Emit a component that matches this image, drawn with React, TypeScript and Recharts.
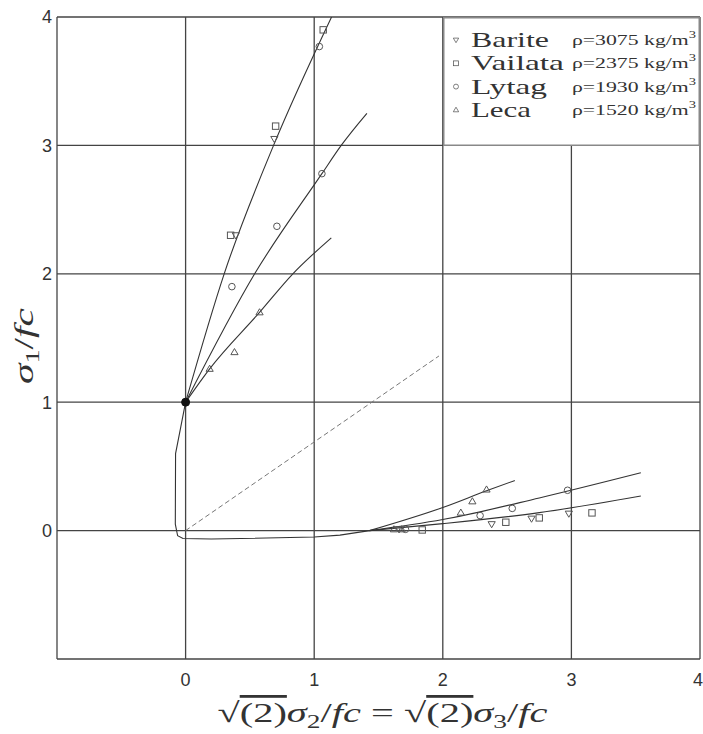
import React from 'react';
import { ComposedChart, Line, Scatter, XAxis, YAxis, CartesianGrid, Legend } from 'recharts';

// ---------- data ----------
const axisTicks = [-1, 0, 1, 2, 3, 4];

// compressive meridian fits starting from uniaxial point (0,1)
const fitBariteVailata = [
  { x: 0, y: 1 }, { x: 0.3, y: 2 }, { x: 0.684, y: 3 }, { x: 1.135, y: 4 },
];
const fitLytag = [
  { x: 0, y: 1 }, { x: 0.537, y: 2 }, { x: 1.06, y: 2.78 }, { x: 1.21, y: 3 }, { x: 1.41, y: 3.25 },
];
const fitLeca = [
  { x: 0, y: 1 }, { x: 0.187, y: 1.26 }, { x: 0.575, y: 1.7 }, { x: 0.834, y: 2 }, { x: 1.133, y: 2.28 },
];
// failure envelope through the tensile region
const envelope = [
  { x: 0, y: 1 }, { x: -0.037, y: 0.81 }, { x: -0.078, y: 0.6 }, { x: -0.08, y: 0.05 },
  { x: -0.062, y: -0.04 }, { x: -0.02, y: -0.062 }, { x: 0.2, y: -0.066 }, { x: 1.0, y: -0.05 },
  { x: 1.2, y: -0.035 }, { x: 1.43, y: 0 },
];
const dashedRay = [{ x: 0, y: 0 }, { x: 1.97, y: 1.36 }];
// tensile meridian fits
const tFitLeca = [{ x: 1.43, y: 0 }, { x: 2.0, y: 0.18 }, { x: 2.34, y: 0.31 }, { x: 2.56, y: 0.39 }];
const tFitLytag = [{ x: 1.43, y: 0 }, { x: 2.0, y: 0.086 }, { x: 2.75, y: 0.254 }, { x: 3.54, y: 0.45 }];
const tFitBarite = [{ x: 1.43, y: 0 }, { x: 2.0, y: 0.054 }, { x: 2.75, y: 0.14 }, { x: 3.54, y: 0.27 }];

const uniaxialPoint = [{ x: 0, y: 1 }];

const bariteData = [
  { x: 0.39, y: 2.3 }, { x: 0.69, y: 3.05 }, { x: 1.66, y: 0.01 }, { x: 2.38, y: 0.05 },
  { x: 2.69, y: 0.093 }, { x: 2.98, y: 0.132 },
];
const vailataData = [
  { x: 0.35, y: 2.3 }, { x: 0.7, y: 3.15 }, { x: 1.07, y: 3.9 }, { x: 1.84, y: 0.005 },
  { x: 2.49, y: 0.065 }, { x: 2.75, y: 0.099 }, { x: 3.16, y: 0.138 },
];
const lytagData = [
  { x: 0.36, y: 1.9 }, { x: 0.71, y: 2.37 }, { x: 1.06, y: 2.78 }, { x: 1.04, y: 3.77 },
  { x: 1.71, y: 0.01 }, { x: 2.29, y: 0.117 }, { x: 2.54, y: 0.173 }, { x: 2.97, y: 0.314 },
];
const lecaData = [
  { x: 0.187, y: 1.26 }, { x: 0.38, y: 1.39 }, { x: 0.575, y: 1.7 }, { x: 1.62, y: 0.01 },
  { x: 1.68, y: 0.01 }, { x: 2.14, y: 0.14 }, { x: 2.23, y: 0.228 }, { x: 2.34, y: 0.32 },
];

const legendNames = ['Barite', 'Vailata', 'Lytag', 'Leca'];
const legendDensities = ['3075', '2375', '1930', '1520'];

// ---------- styling ----------
const MARK = '#555';
const LINE = '#333';

const TriDown = (p: any) => {
  const { cx, cy } = p;
  const s = 3.6;
  return <path d={`M${cx - s},${cy - s * 0.7}L${cx + s},${cy - s * 0.7}L${cx},${cy + s}Z`} fill="none" stroke={MARK} strokeWidth={1} />;
};
const TriUp = (p: any) => {
  const { cx, cy } = p;
  const s = 3.6;
  return <path d={`M${cx - s},${cy + s * 0.7}L${cx + s},${cy + s * 0.7}L${cx},${cy - s}Z`} fill="none" stroke={MARK} strokeWidth={1} />;
};
const Sq = (p: any) => {
  const { cx, cy } = p;
  const s = 3.2;
  return <rect x={cx - s} y={cy - s} width={2 * s} height={2 * s} fill="none" stroke={MARK} strokeWidth={1} />;
};
const Circ = (p: any) => {
  const { cx, cy } = p;
  return <circle cx={cx} cy={cy} r={3.3} fill="none" stroke={MARK} strokeWidth={1} />;
};
const BigDot = (p: any) => {
  const { cx, cy } = p;
  return <circle cx={cx} cy={cy} r={4} fill="#111" stroke="#111" />;
};

const legendMarkers = [TriDown, Sq, Circ, TriUp];
const nameWidths = [78, 93, 76, 60];

const LegendBox = () => (
  <svg width={257} height={129} style={{ display: 'block' }}>
    <rect x={0.75} y={0.75} width={255.5} height={127.5} fill="#fff" stroke="#888" strokeWidth={1.5} />
    {legendNames.map((n, i) => {
      const cy = 23 + i * 23.3;
      const M = legendMarkers[i];
      return (
        <g key={n}>
          <g transform="scale(0.75)" style={{ transformOrigin: `13px ${cy}px` }}>
            <M cx={13} cy={cy} />
          </g>
          <text x={28} y={cy + 7} fontFamily="Liberation Serif" fontSize={22} fill="#333"
            textLength={nameWidths[i]} lengthAdjust="spacingAndGlyphs">{n}</text>
          <text x={129} y={cy + 5} fontFamily="Liberation Serif" fontSize={15} fill="#333"
            textLength={124} lengthAdjust="spacingAndGlyphs">
            {`ρ=${legendDensities[i]} kg/m`}
            <tspan dy={-7} fontSize={10}>3</tspan>
          </text>
        </g>
      );
    })}
  </svg>
);

const XLabel = (props: any) => {
  const vb = props.viewBox || { x: 49, y: 651, width: 643, height: 75 };
  const cx = vb.x + vb.width / 2 + 4;
  const y = vb.y + 63;
  return (
    <text x={cx} y={y} textAnchor="middle" fontFamily="Liberation Serif" fontSize={28} fill="#333"
      textLength={330} lengthAdjust="spacingAndGlyphs">
      <tspan>√</tspan>
      <tspan style={{ textDecoration: 'overline' }}>(2)</tspan>
      <tspan fontStyle="italic">σ</tspan>
      <tspan fontSize={19} dy={6}>2</tspan>
      <tspan dy={-6}>/</tspan>
      <tspan fontStyle="italic">fc</tspan>
      <tspan> = √</tspan>
      <tspan style={{ textDecoration: 'overline' }}>(2)</tspan>
      <tspan fontStyle="italic">σ</tspan>
      <tspan fontSize={19} dy={6}>3</tspan>
      <tspan dy={-6}>/</tspan>
      <tspan fontStyle="italic">fc</tspan>
    </text>
  );
};

const YLabel = (props: any) => {
  const vb = props.viewBox || { x: 0, y: 9, width: 49, height: 642 };
  const x = 25;
  const y = vb.y + vb.height / 2 + 8;
  return (
    <text x={x} y={y} transform={`rotate(-90, ${x}, ${y})`} textAnchor="middle" fontFamily="Liberation Serif"
      fontSize={28} fill="#333" textLength={76} lengthAdjust="spacingAndGlyphs">
      <tspan fontStyle="italic">σ</tspan>
      <tspan fontSize={19} dy={6}>1</tspan>
      <tspan dy={-6}>/</tspan>
      <tspan fontStyle="italic">fc</tspan>
    </text>
  );
};

const tickStyle = { fontSize: 18, fill: '#333', fontFamily: 'Liberation Sans' };
const fmt = (v: number) => (v === -1 ? '' : String(v));

const XTick = (props: any) => {
  const { x, y, payload } = props;
  const v = payload.value;
  if (v === -1) return null;
  const last = v === 4;
  return (
    <text x={last ? x + 3 : x} y={y} dy={14} textAnchor={last ? 'end' : 'middle'}
      fontSize={18} fill="#333" fontFamily="Liberation Sans">{String(v)}</text>
  );
};

export default function App() {
  return (
    <div style={{ width: 695, height: 726, padding: '8px 0 0 8px' }}>
      <style>{'body{margin:0}'}</style>
      <ComposedChart width={695} height={726} margin={{ top: 9, right: 3, bottom: 0, left: 0 }}>
        <CartesianGrid stroke="#444" strokeWidth={1.3} />
        <XAxis type="number" dataKey="x" domain={[-1, 4]} ticks={axisTicks} tickFormatter={fmt}
          allowDataOverflow height={75} axisLine={false} tickLine={false} tickSize={0} tickMargin={13}
          tick={XTick} interval={0} label={{ content: XLabel }} />
        <YAxis type="number" dataKey="y" domain={[-1, 4]} ticks={axisTicks} tickFormatter={fmt}
          allowDataOverflow width={49} axisLine={false} tickLine={false} tickSize={0} tickMargin={5}
          tick={tickStyle} interval={0} label={{ content: YLabel }} />
        <Legend content={LegendBox} layout="horizontal" verticalAlign="middle" align="center"
          wrapperStyle={{ position: 'absolute', left: 435, top: 9, width: 257, height: 129 }} />
        <Line data={dashedRay} dataKey="y" type="linear" stroke="#777" strokeWidth={1} strokeDasharray="5 3" dot={false} isAnimationActive={false} legendType="none" />
        <Line data={envelope} dataKey="y" type="linear" stroke={LINE} strokeWidth={1.1} dot={false} isAnimationActive={false} legendType="none" />
        <Line data={fitBariteVailata} dataKey="y" type="monotone" stroke={LINE} strokeWidth={1.1} dot={false} isAnimationActive={false} legendType="none" />
        <Line data={fitLytag} dataKey="y" type="monotone" stroke={LINE} strokeWidth={1.1} dot={false} isAnimationActive={false} legendType="none" />
        <Line data={fitLeca} dataKey="y" type="monotone" stroke={LINE} strokeWidth={1.1} dot={false} isAnimationActive={false} legendType="none" />
        <Line data={tFitLeca} dataKey="y" type="monotone" stroke={LINE} strokeWidth={1.1} dot={false} isAnimationActive={false} legendType="none" />
        <Line data={tFitLytag} dataKey="y" type="monotone" stroke={LINE} strokeWidth={1.1} dot={false} isAnimationActive={false} legendType="none" />
        <Line data={tFitBarite} dataKey="y" type="monotone" stroke={LINE} strokeWidth={1.1} dot={false} isAnimationActive={false} legendType="none" />
        <Scatter name="Barite" data={bariteData} dataKey="y" shape={TriDown} isAnimationActive={false} />
        <Scatter name="Vailata" data={vailataData} dataKey="y" shape={Sq} isAnimationActive={false} />
        <Scatter name="Lytag" data={lytagData} dataKey="y" shape={Circ} isAnimationActive={false} />
        <Scatter name="Leca" data={lecaData} dataKey="y" shape={TriUp} isAnimationActive={false} />
        <Scatter data={uniaxialPoint} dataKey="y" shape={BigDot} isAnimationActive={false} legendType="none" />
      </ComposedChart>
    </div>
  );
}
